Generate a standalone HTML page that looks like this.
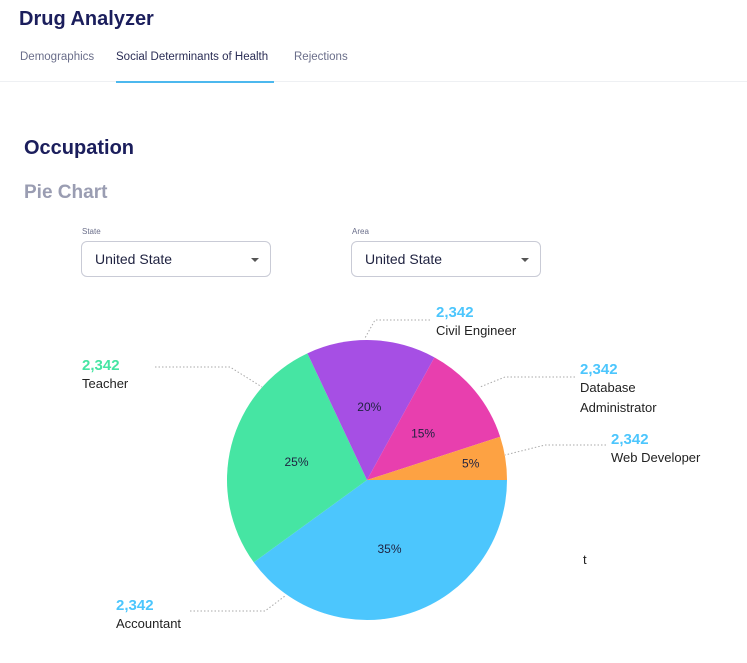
<!DOCTYPE html>
<html><head><meta charset="utf-8"><style>
body{margin:0;width:747px;height:663px;background:#fff;font-family:"Liberation Sans",sans-serif;position:relative;overflow:hidden}
.a{position:absolute;white-space:nowrap}
.sel{position:absolute;width:188px;height:34px;border:1px solid #c9cbd6;border-radius:6px;top:241px}
.sel span{position:absolute;left:13px;top:9px;font-size:14px;color:#1f2240}
.sel i{position:absolute;right:11px;top:16px;border:4px solid transparent;border-top:4px solid #555;border-bottom:0}
</style></head><body>
<div class="a" style="left:19px;top:8px;font-size:20px;font-weight:bold;color:#1b1e5c">Drug Analyzer</div>
<div class="a" style="left:20px;top:51px;font-size:11.5px;color:#6a6e8a">Demographics</div>
<div class="a" style="left:116px;top:51px;font-size:11.5px;color:#2a2d55">Social Determinants of Health</div>
<div class="a" style="left:294px;top:51px;font-size:11.5px;color:#6a6e8a">Rejections</div>
<div class="a" style="left:0;top:81px;width:747px;height:1px;background:#eef0f3"></div>
<div class="a" style="left:116px;top:81px;width:158px;height:2px;background:#4cb8ee"></div>
<div class="a" style="left:24px;top:137px;font-size:20px;font-weight:bold;color:#1b1e5c">Occupation</div>
<div class="a" style="left:24px;top:182px;font-size:19px;font-weight:bold;color:#9a9db2">Pie Chart</div>
<div class="a" style="left:82px;top:227px;font-size:8px;color:#6a6e8a">State</div>
<div class="sel" style="left:81px"><span>United State</span><i></i></div>
<div class="a" style="left:352px;top:227px;font-size:8px;color:#6a6e8a">Area</div>
<div class="sel" style="left:351px"><span>United State</span><i></i></div>
<div class="a" style="left:583px;top:552px;font-size:13px;color:#222">t</div>
<svg id="pie" width="747" height="663" style="position:absolute;left:0;top:0"></svg>
<script>
const categories=["Accountant","Teacher","Civil Engineer","Database Administrator","Web Developer"];
const values=[40,28,15,12,5];
const pctLabels=["35%","25%","20%","15%","5%"];
const counts=["2,342","2,342","2,342","2,342","2,342"];
const colors=["#4cc6fd","#46e5a3","#a64fe4","#e83fae","#fda243"];
const labelPos=[[116,596,"#4cc6fd"],[82,356,"#46e5a3"],[436,303,"#4cc6fd"],[580,360,"#4cc6fd"],[611,430,"#4cc6fd"]];
const leaders=[[[190,611],[265,611],[285,596]],[[155,367],[230,367],[262,387]],[[430,320],[375,320],[365,338]],[[575,377],[505,377],[480,387]],[[606,445],[545,445],[505,455]]];
const svg=document.getElementById('pie');const NS='http://www.w3.org/2000/svg';
const cx=367,cy=480,R=140;const total=values.reduce((a,b)=>a+b,0);
let ang=0;
values.forEach((v,i)=>{
 const a0=ang,a1=ang+v/total*2*Math.PI;ang=a1;
 const p=document.createElementNS(NS,'path');
 const x0=cx+R*Math.cos(a0),y0=cy+R*Math.sin(a0),x1=cx+R*Math.cos(a1),y1=cy+R*Math.sin(a1);
 p.setAttribute('d',`M${cx},${cy}L${x0},${y0}A${R},${R} 0 ${a1-a0>Math.PI?1:0} 1 ${x1},${y1}Z`);
 p.setAttribute('fill',colors[i]);
 
 
 svg.appendChild(p);
 const m=(a0+a1)/2,f=v/total<0.1?0.75:0.52;
 const t=document.createElementNS(NS,'text');
 t.setAttribute('x',cx+R*f*Math.cos(m));t.setAttribute('y',cy+R*f*Math.sin(m)+4);
 t.setAttribute('text-anchor','middle');t.setAttribute('font-size','12');t.setAttribute('fill','#1f2240');
 t.textContent=pctLabels[i];
 
 
 svg.appendChild(t);
 const l=document.createElementNS(NS,'polyline');
 l.setAttribute('points',leaders[i].map(q=>q.join(',')).join(' '));
 l.setAttribute('fill','none');l.setAttribute('stroke','#aaa');l.setAttribute('stroke-dasharray','1.5,2');
 
 
 svg.appendChild(l);
 const [lx,ly,lc]=labelPos[i];
 const c=document.createElementNS(NS,'text');
 c.setAttribute('x',lx);c.setAttribute('y',ly+14);c.setAttribute('font-size','15');c.setAttribute('font-weight','bold');c.setAttribute('fill',lc);
 c.textContent=counts[i];
 
 
 svg.appendChild(c);
 const words=categories[i]==="Database Administrator"?["Database","Administrator"]:[categories[i]];
 words.forEach((w,j)=>{
  const n=document.createElementNS(NS,'text');
  n.setAttribute('x',lx);n.setAttribute('y',ly+32+j*20);n.setAttribute('font-size','13');n.setAttribute('fill','#222');
  n.textContent=w;
  
  
  svg.appendChild(n);
 });
});
</script>
</body></html>
